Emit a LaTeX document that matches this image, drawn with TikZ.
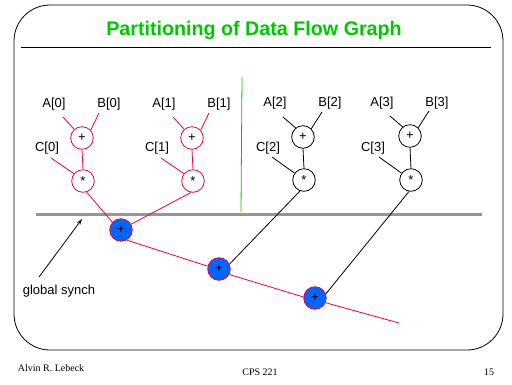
\documentclass[tikz,border=0pt]{standalone}
\usepackage{fontspec}
\setmainfont{Liberation Sans}
\newfontfamily\footfont{Liberation Serif}
\usetikzlibrary{arrows.meta}
\definecolor{dfred}{RGB}{240,0,60}
\definecolor{dfblue}{RGB}{0,102,255}
\definecolor{dfgreen}{RGB}{0,200,0}
\definecolor{dfgray}{RGB}{150,150,150}
\begin{document}
\begin{tikzpicture}[x=1pt,y=-1pt,
  every path/.style={line width=0.8pt},
  lbl/.style={inner sep=0pt, font=\fontsize{13}{15}\selectfont},
  opnode/.style={circle, draw, minimum size=22.6pt, inner sep=0pt, font=\fontsize{13}{14}\selectfont},
  rednode/.style={opnode, draw=dfred},
  blacknode/.style={opnode, draw=black},
  sumnode/.style={opnode, draw=dfred, fill=dfblue},
  redline/.style={draw=dfred},
  blackline/.style={draw=black},
  footer/.style={inner sep=0pt, font=\footfont\fontsize{10}{12}\selectfont}
]
\useasboundingbox (0,0) rectangle (512,384);
% frame
\draw[rounded corners=36pt] (14,5) rectangle (503,350);
\node[inner sep=0pt, text=dfgreen, font=\bfseries\fontsize{19.7}{22}\selectfont] (title) at (254,30) {Partitioning of Data Flow Graph};
\draw (21,47) coordinate (r1) -- (491,47) coordinate (r2);
% green partition line
\draw[dfgreen] (242,77) coordinate (g1) -- (241,212) coordinate (g2);
% global synch line
\draw[dfgray, line width=3pt] (36,214) coordinate (s1) -- (482,214) coordinate (s2);

% tree 0
\node[lbl] (A0) at (54,104) {A[0]};
\node[lbl] (B0) at (109,104) {B[0]};
\node[lbl] (C0) at (47,148) {C[0]};
\node[rednode] (p0) at (82,138) {+};
\node[rednode] (m0) at (83,181) {*};
\coordinate (a0) at (63,117);
\coordinate (bb0) at (99,113);
\coordinate (c0) at (51,158);
\draw[redline] (a0) -- (p0.132);
\draw[redline] (bb0) -- (p0.42);
\draw[redline] (c0) -- (m0.141);
\draw[redline] (p0.south) -- (m0.north);

% tree 1
\node[lbl] (A1) at (164,104) {A[1]};
\node[lbl] (B1) at (219,104) {B[1]};
\node[lbl] (C1) at (157,148) {C[1]};
\node[rednode] (p1) at (192,138) {+};
\node[rednode] (m1) at (193,181) {*};
\coordinate (a1) at (173,117);
\coordinate (bb1) at (209,113);
\coordinate (c1) at (161,158);
\draw[redline] (a1) -- (p1.132);
\draw[redline] (bb1) -- (p1.42);
\draw[redline] (c1) -- (m1.141);
\draw[redline] (p1.south) -- (m1.north);

% tree 2
\node[lbl] (A2) at (275,103) {A[2]};
\node[lbl] (B2) at (330,103) {B[2]};
\node[lbl] (C2) at (268,148) {C[2]};
\node[blacknode] (p2) at (303,137) {+};
\node[blacknode] (m2) at (304,180) {*};
\coordinate (a2) at (283,117);
\coordinate (bb2) at (322,112);
\coordinate (c2) at (272,157);
\draw[blackline] (a2) -- (p2.129);
\draw[blackline] (bb2) -- (p2.45);
\draw[blackline] (c2) -- (m2.144);
\draw[blackline] (p2.south) -- (m2.north);

% tree 3
\node[lbl] (A3) at (382,103) {A[3]};
\node[lbl] (B3) at (437,103) {B[3]};
\node[lbl] (C3) at (373,148) {C[3]};
\node[blacknode] (p3) at (410,136) {+};
\node[blacknode] (m3) at (411,180) {*};
\coordinate (a3) at (390,116);
\coordinate (bb3) at (429,111);
\coordinate (c3) at (379,157);
\draw[blackline] (a3) -- (p3.129);
\draw[blackline] (bb3) -- (p3.45);
\draw[blackline] (c3) -- (m3.144);
\draw[blackline] (p3.south) -- (m3.north);

% summation nodes
\node[sumnode] (b1) at (121,230) {+};
\node[sumnode] (b2) at (219,269) {+};
\node[sumnode] (b3) at (315,298) {+};
\coordinate (bend) at (399,323);

\draw[redline] (m0.-72) -- (b1.138);
\draw[redline] (m1.-100) -- (b1.30);
\draw[blackline] (m2.-110) -- (b2.25);
\draw[blackline] (m3.-100) -- (b3.21);
\draw[redline] (b1.-60) -- (b2.166);
\draw[redline] (b2.-28) -- (b3.175);
\draw[redline] (b3.-24) -- (bend);

% global synch label
\node[lbl] (gs) at (59,291) {global synch};
\coordinate (gsa) at (39,277);
\coordinate (gsb) at (82,219);
\draw[-{Stealth[length=6pt,width=4pt]}] (gsa) -- (gsb);

% footer
\node[footer] (f1) at (51,368) {Alvin R. Lebeck};
\node[footer] (f2) at (260,372) {CPS 221};
\node[footer] (f3) at (489,372) {15};
\end{tikzpicture}
\end{document}
